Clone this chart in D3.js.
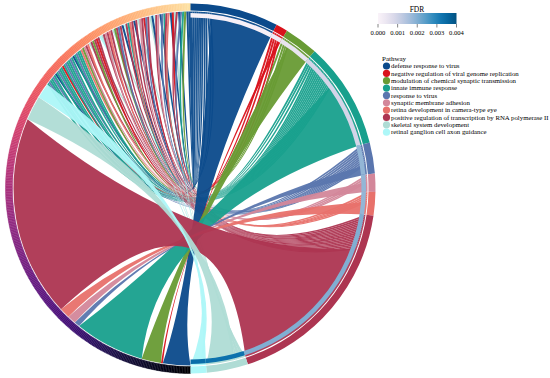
<!DOCTYPE html>
<html>
<head>
<meta charset="utf-8">
<script src="https://cdn.jsdelivr.net/npm/d3@7"></script>
<style>
  body { margin: 0; background: #fff; }
  svg { display: block; }
  text { font-family: "Liberation Serif", "Times New Roman", serif; fill: #000; }
</style>
</head>
<body>
<svg id="chart" width="550" height="378"></svg>
<script>
// pathways on the right half, clockwise from the top
const pathways = [
  "defense response to virus",
  "negative regulation of viral genome replication",
  "modulation of chemical synaptic transmission",
  "innate immune response",
  "response to virus",
  "synaptic membrane adhesion",
  "retina development in camera-type eye",
  "positive regulation of transcription by RNA polymerase II",
  "skeletal system development",
  "retinal ganglion cell axon guidance"
];
const pathwayColors = ["#0b4a8b", "#d9121b", "#689b34", "#18a08d", "#5a76ae",
                       "#d3879a", "#e8716b", "#ad3551", "#afdcd5", "#adf7f8"];
const pathwayFDR = [0.0001, 0.0003, 0.0005, 0.0009, 0.0018, 0.0018, 0.0018, 0.0020, 0.0033, 0.0034];

// big gene block at the lower left: one link per pathway (width in degrees, gene end / pathway end)
const hubPath = [0, 1, 2, 3, 4, 5, 6, 7];
const hubGeneWidth = [9, 0.6, 6.4, 23, 1.8, 2.8, 3.4, 66];
const hubPathWidth = [21, 1, 8, 22, 3, 3, 4, 52];

// two wide bands just above it
const bandPath = [8, 9];
const bandGeneWidth = [8, 5];
const bandPathWidth = [9, 3];

// thin single links of the upper-left genes, bottom to top
const fanPath = [
  3,4,3,3,4,3,0,3,4,3,3,1,3,4,3,3,4,3,0,3,4,3,3,6,2,5,
  7,6,8,7,2,7,1,7,9,8,7,5,7,6,7,8,2,7,4,7,0,9,7,3,6,7,0,
  7,8,5,7,1,4,7,8,0,9,7,5,0,4,3,7,6,0,1,8,7,0,4,3,2,0,0
];
const fanWidth = 0.675;

const fdrTicks = [0, 0.001, 0.002, 0.003, 0.004];

const cx = 190.5, cy = 188.5;
const rOuter = 185, rRingIn = 178, rLink = 177, rFdrOut = 175.5, rFdrIn = 171;
// links bend towards a point a little below the centre
const focus = [4, 40], pull = 0.82;

const svg = d3.select("#chart");
const deg = d3.scaleLinear().domain([0, 360]).range([0, 2 * Math.PI]);
const fdrColor = d3.scaleSequential(t => d3.interpolatePuBu(0.03 + t * 0.87)).domain([0, 0.004]);
const geneColor = d3.scaleSequential(d3.interpolateMagma).domain([180, 372]);

// ---- layout: gene side (left half) ----
let links = [];
let g = 180;
hubPath.forEach((p, i) => {
  links.push({ path: p, kind: "hub", g0: g, g1: g + hubGeneWidth[i], pw: hubPathWidth[i] });
  g += hubGeneWidth[i];
});
bandPath.forEach((p, i) => {
  links.push({ path: p, kind: "band", g0: g, g1: g + bandGeneWidth[i], pw: bandPathWidth[i] });
  g += bandGeneWidth[i];
});
fanPath.forEach(p => {
  links.push({ path: p, kind: "fan", g0: g, g1: g + fanWidth, pw: fanWidth });
  g += fanWidth;
});

// ---- layout: pathway side (right half), thin links first ----
let pStart = [], pEnd = [];
let a = 0;
pathways.forEach((name, p) => {
  pStart.push(a);
  let mine = links.filter(l => l.path === p);
  let fan = mine.filter(l => l.kind === "fan").sort((x, y) => y.g0 - x.g0);
  let big = mine.filter(l => l.kind !== "fan");
  fan.concat(big).forEach(l => { l.p0 = a; l.p1 = a + l.pw; a += l.pw; });
  pEnd.push(a);
});

function pt(ang, r) {
  const t = deg(ang);
  return [r * Math.sin(t), -r * Math.cos(t)];
}
// control point so that the curve's middle sits between the chord middle and the focus
function ctrl(a1, a2) {
  const A = pt(a1, rLink), B = pt(a2, rLink);
  const M = [(A[0] + B[0]) / 2, (A[1] + B[1]) / 2];
  return [M[0] + 2 * pull * (focus[0] - M[0]), M[1] + 2 * pull * (focus[1] - M[1])];
}
function linkPath(s0, s1, t0, t1) {
  const p = d3.path();
  const S0 = pt(s0, rLink), T0 = pt(t0, rLink);
  p.moveTo(S0[0], S0[1]);
  p.arc(0, 0, rLink, deg(s0) - Math.PI / 2, deg(s1) - Math.PI / 2);
  const c1 = ctrl(s1, t0);
  p.quadraticCurveTo(c1[0], c1[1], T0[0], T0[1]);
  p.arc(0, 0, rLink, deg(t0) - Math.PI / 2, deg(t1) - Math.PI / 2);
  const c2 = ctrl(t1, s0);
  p.quadraticCurveTo(c2[0], c2[1], S0[0], S0[1]);
  p.closePath();
  return p.toString();
}

const chart = svg.append("g").attr("transform", `translate(${cx},${cy})`);

// thin links first, the wide ones over them
const drawOrder = links.filter(l => l.kind === "fan")
  .concat(links.filter(l => l.kind === "hub"))
  .concat(links.filter(l => l.kind === "band"));
chart.append("g").selectAll("path")
  .data(drawOrder)
  .join("path")
  .attr("d", l => linkPath(l.g0, l.g1, l.p0, l.p1))
  .attr("fill", l => pathwayColors[l.path])
  .attr("fill-opacity", 0.95);

const arc = d3.arc();

// gene ring (left), colour by position
const segs = d3.range(180, 360, 0.5);
chart.append("g").selectAll("path")
  .data(segs)
  .join("path")
  .attr("d", s => arc({ innerRadius: rRingIn, outerRadius: rOuter, startAngle: deg(s), endAngle: deg(s + 0.5) }))
  .attr("fill", s => geneColor(s + 0.25))
  .attr("stroke", s => geneColor(s + 0.25))
  .attr("stroke-width", 0.4);

// pathway ring and FDR ring (right)
const pw = chart.append("g").selectAll("g")
  .data(pathways)
  .join("g");
pw.append("path")
  .attr("d", (d, i) => arc({ innerRadius: rRingIn, outerRadius: rOuter, startAngle: deg(pStart[i]), endAngle: deg(pEnd[i]) }))
  .attr("fill", (d, i) => pathwayColors[i]);
pw.append("path")
  .attr("d", (d, i) => arc({ innerRadius: rFdrIn, outerRadius: rFdrOut, startAngle: deg(pStart[i]), endAngle: deg(pEnd[i]) }))
  .attr("fill", (d, i) => fdrColor(pathwayFDR[i]));

// ---- FDR colour bar ----
const defs = svg.append("defs");
const grad = defs.append("linearGradient").attr("id", "fdrGrad");
d3.range(0, 1.0001, 0.1).forEach(t => {
  grad.append("stop").attr("offset", t).attr("stop-color", fdrColor(t * 0.004));
});
const barX = d3.scaleLinear().domain([0, 0.004]).range([378, 456.5]);
const leg = svg.append("g");
leg.append("rect").attr("x", 378).attr("y", 13).attr("width", 78.5).attr("height", 11)
  .attr("fill", "url(#fdrGrad)");
leg.append("text").attr("x", 417).attr("y", 11.5).attr("text-anchor", "middle")
  .attr("font-size", 7.5).text("FDR");
leg.selectAll("line").data(fdrTicks).join("line")
  .attr("x1", d => barX(d)).attr("x2", d => barX(d))
  .attr("y1", 24).attr("y2", 27.5)
  .attr("stroke", "#333").attr("stroke-width", 0.6);
leg.selectAll("text.tk").data(fdrTicks).join("text")
  .attr("class", "tk")
  .attr("x", d => barX(d)).attr("y", 34.5).attr("text-anchor", "middle")
  .attr("font-size", 6.6).text(d => d3.format(".3f")(d));

// ---- pathway legend ----
const pl = svg.append("g");
pl.append("text").attr("x", 382).attr("y", 61.3).attr("font-size", 7).text("Pathway");
const row = d3.scaleLinear().domain([0, 1]).range([66, 73.35]);
const item = pl.selectAll("g.it").data(pathways).join("g").attr("class", "it");
item.append("circle").attr("cx", 386.5).attr("cy", (d, i) => row(i)).attr("r", 3.6)
  .attr("fill", (d, i) => pathwayColors[i]);
item.append("text").attr("x", 391).attr("y", (d, i) => row(i) + 2.3)
  .attr("font-size", 6.8).text(d => d);
</script>
</body>
</html>
